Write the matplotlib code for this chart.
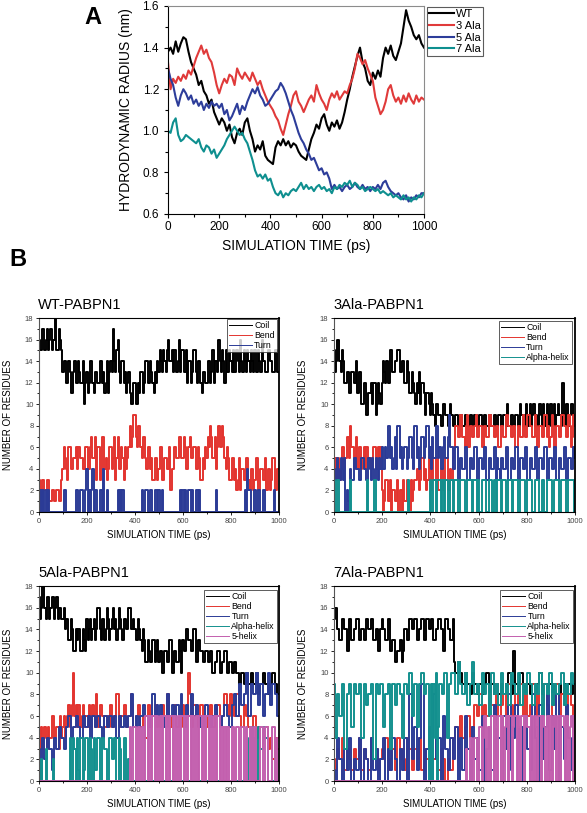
import numpy as np
import matplotlib
matplotlib.use("Agg")
import matplotlib.pyplot as plt
from matplotlib.ticker import MultipleLocator

plt.rcParams['font.family'] = ['Liberation Sans', 'DejaVu Sans']

# panel A sampled every 10 ps, panel B every 5 ps
time_a = np.arange(0, 1001, 10)
time_b = np.arange(0, 1001, 5)

# panel A: hydrodynamic radius (nm)
rh_wt = [1.38, 1.40, 1.37, 1.43, 1.38, 1.42, 1.45, 1.44, 1.38, 1.33,
         1.30, 1.27, 1.22, 1.24, 1.19, 1.17, 1.13, 1.15, 1.09, 1.06,
         1.03, 1.06, 1.04, 1.00, 1.03, 0.97, 0.94, 0.99, 1.01, 0.98,
         1.04, 1.06, 1.00, 0.96, 0.90, 0.93, 0.91, 0.95, 0.88, 0.86,
         0.85, 0.84, 0.92, 0.95, 0.93, 0.96, 0.93, 0.95, 0.92, 0.94,
         0.93, 0.90, 0.88, 0.87, 0.86, 0.91, 0.96, 0.99, 1.03, 1.01,
         1.06, 1.08, 1.03, 1.00, 1.04, 1.02, 1.05, 1.01, 1.04, 1.09,
         1.15, 1.20, 1.26, 1.31, 1.36, 1.40, 1.33, 1.30, 1.24, 1.22,
         1.28, 1.25, 1.29, 1.26, 1.35, 1.40, 1.37, 1.41, 1.36, 1.34,
         1.38, 1.42, 1.50, 1.58, 1.53, 1.50, 1.46, 1.44, 1.46, 1.42, 1.40]
rh_3ala = [1.33, 1.20, 1.25, 1.23, 1.26, 1.24, 1.27, 1.25, 1.29, 1.27,
           1.31, 1.35, 1.38, 1.41, 1.37, 1.39, 1.35, 1.33, 1.28, 1.22,
           1.18, 1.22, 1.25, 1.23, 1.27, 1.26, 1.22, 1.30, 1.27, 1.25,
           1.28, 1.26, 1.24, 1.28, 1.25, 1.22, 1.24, 1.20, 1.17, 1.14,
           1.12, 1.10, 1.07, 1.05, 1.01, 0.98, 1.03, 1.08, 1.12, 1.17,
           1.19, 1.14, 1.12, 1.09, 1.12, 1.15, 1.17, 1.14, 1.22, 1.18,
           1.15, 1.13, 1.10, 1.15, 1.18, 1.16, 1.19, 1.15, 1.17, 1.19,
           1.18, 1.22, 1.25, 1.30, 1.37, 1.35, 1.32, 1.34, 1.30, 1.27,
           1.24, 1.16, 1.12, 1.08, 1.10, 1.14, 1.20, 1.22, 1.17, 1.14,
           1.16, 1.13, 1.17, 1.14, 1.18, 1.15, 1.13, 1.17, 1.14, 1.16, 1.15]
rh_5ala = [1.30, 1.25, 1.22, 1.16, 1.12, 1.17, 1.20, 1.18, 1.15, 1.17,
           1.13, 1.15, 1.12, 1.14, 1.10, 1.13, 1.11, 1.14, 1.12, 1.13,
           1.11, 1.13, 1.08, 1.10, 1.05, 1.07, 1.10, 1.13, 1.08, 1.12,
           1.10, 1.14, 1.17, 1.20, 1.18, 1.21, 1.17, 1.15, 1.12, 1.13,
           1.15, 1.17, 1.19, 1.20, 1.23, 1.21, 1.18, 1.14, 1.10, 1.07,
           1.03, 0.99, 0.96, 0.94, 0.91, 0.89, 0.86, 0.87, 0.84, 0.81,
           0.82, 0.79, 0.80, 0.77, 0.72, 0.74, 0.72, 0.73, 0.71, 0.73,
           0.74, 0.72, 0.73, 0.75, 0.73, 0.72, 0.74, 0.72, 0.73, 0.71,
           0.73, 0.72, 0.74, 0.72, 0.75, 0.76, 0.73, 0.71, 0.70, 0.69,
           0.70, 0.68, 0.67, 0.69, 0.66, 0.68, 0.67, 0.69, 0.68, 0.70, 0.70]
rh_7ala = [1.00, 0.99, 1.04, 1.06, 0.98, 0.95, 0.96, 0.98, 0.97, 0.96,
           0.95, 0.94, 0.96, 0.92, 0.90, 0.93, 0.92, 0.89, 0.91, 0.87,
           0.89, 0.91, 0.93, 0.96, 0.98, 1.00, 1.02, 1.00, 0.98, 0.99,
           0.96, 0.94, 0.90, 0.86, 0.81, 0.78, 0.79, 0.77, 0.79, 0.76,
           0.77, 0.73, 0.70, 0.69, 0.71, 0.68, 0.70, 0.69, 0.71, 0.72,
           0.71, 0.73, 0.75, 0.72, 0.74, 0.72, 0.73, 0.71, 0.73, 0.74,
           0.72, 0.73, 0.71, 0.72, 0.70, 0.73, 0.72, 0.74, 0.73, 0.75,
           0.74, 0.76, 0.73, 0.75, 0.74, 0.72, 0.73, 0.71, 0.72, 0.73,
           0.72, 0.71, 0.72, 0.70, 0.71, 0.70, 0.69, 0.70, 0.68, 0.69,
           0.68, 0.67, 0.69, 0.67, 0.68, 0.66, 0.68, 0.67, 0.69, 0.68, 0.70]
rh_labels = ['WT', '3 Ala', '5 Ala', '7 Ala']
rh_colors = ['#000000', '#e03a3a', '#2d3d9a', '#0e8f8f']

# panel B: number of residues in each secondary structure (one row = 100 ps)
wt_coil = [16, 15, 15, 17, 17, 15, 16, 17, 15, 16, 17, 15, 16, 16, 18, 15, 15, 17, 16, 15,
           13, 14, 14, 12, 12, 14, 13, 11, 11, 13, 14, 12, 12, 14, 13, 12, 12, 14, 10, 12,
           13, 11, 12, 14, 14, 12, 11, 13, 13, 12, 12, 14, 14, 12, 13, 11, 12, 14, 11, 13,
           14, 13, 17, 14, 13, 15, 16, 13, 12, 14, 14, 12, 13, 11, 12, 13, 11, 10, 10, 12,
           12, 10, 10, 12, 11, 13, 13, 11, 12, 14, 14, 12, 12, 14, 13, 12, 11, 13, 12, 14,
           13, 15, 14, 13, 15, 14, 13, 15, 16, 14, 14, 15, 13, 15, 15, 13, 14, 16, 13, 15,
           15, 13, 13, 15, 12, 14, 14, 12, 13, 15, 15, 13, 12, 14, 14, 12, 11, 13, 13, 12,
           12, 14, 14, 12, 13, 15, 12, 14, 14, 13, 16, 14, 13, 15, 14, 12, 15, 13, 13, 15,
           14, 13, 15, 13, 13, 15, 14, 13, 16, 14, 13, 15, 14, 13, 15, 14, 13, 15, 14, 13,
           15, 13, 13, 15, 14, 13, 16, 14, 14, 13, 13, 15, 15, 14, 14, 13, 13, 15, 15, 13,
           13]
wt_bend = [3, 2, 2, 3, 3, 2, 2, 3, 3, 1, 1, 2, 2, 1, 1, 2, 2, 1, 1, 3,
           4, 6, 5, 4, 3, 6, 6, 4, 4, 5, 5, 6, 4, 6, 6, 5, 5, 4, 4, 6,
           6, 4, 4, 6, 7, 5, 5, 7, 3, 6, 6, 3, 4, 7, 7, 4, 5, 3, 4, 6,
           6, 4, 5, 7, 3, 5, 7, 4, 4, 6, 5, 3, 6, 4, 5, 6, 8, 6, 7, 9,
           9, 7, 6, 8, 8, 6, 5, 7, 7, 5, 4, 6, 6, 4, 5, 3, 3, 5, 5, 3,
           4, 6, 6, 3, 3, 5, 5, 4, 4, 6, 2, 4, 4, 6, 6, 5, 5, 7, 7, 5,
           5, 7, 6, 4, 4, 6, 7, 5, 5, 6, 6, 4, 4, 6, 5, 3, 3, 5, 4, 6,
           5, 7, 6, 8, 7, 5, 5, 7, 4, 6, 8, 6, 6, 8, 7, 5, 4, 6, 5, 3,
           3, 5, 5, 3, 4, 2, 3, 5, 2, 4, 4, 3, 3, 5, 5, 3, 2, 4, 4, 2,
           3, 5, 5, 2, 2, 4, 4, 3, 3, 5, 2, 4, 4, 2, 3, 5, 5, 2, 2, 4,
           4]
wt_turn = [2, 0, 2, 0, 2, 0, 2, 0, 2, 0, 0, 0, 0, 0, 0, 0, 0, 0, 0, 0,
           0, 2, 2, 0, 0, 0, 0, 0, 0, 0, 0, 2, 2, 0, 0, 2, 2, 0, 0, 2,
           4, 0, 2, 0, 2, 4, 0, 2, 2, 0, 0, 2, 2, 0, 4, 0, 0, 2, 0, 0,
           0, 0, 0, 0, 0, 0, 2, 0, 2, 0, 2, 0, 0, 0, 0, 0, 0, 0, 0, 0,
           0, 0, 0, 0, 0, 0, 2, 0, 0, 2, 2, 0, 0, 2, 2, 0, 0, 2, 2, 0,
           2, 0, 0, 2, 0, 0, 0, 0, 0, 0, 0, 0, 0, 0, 0, 0, 0, 0, 2, 0,
           2, 0, 2, 0, 0, 2, 2, 0, 2, 0, 0, 2, 2, 0, 2, 0, 0, 0, 0, 0,
           0, 0, 0, 0, 0, 0, 0, 0, 2, 0, 0, 0, 0, 0, 0, 0, 0, 0, 0, 0,
           0, 0, 0, 0, 0, 0, 0, 0, 0, 0, 0, 0, 2, 0, 4, 2, 2, 0, 0, 0,
           2, 0, 0, 2, 2, 0, 0, 2, 2, 0, 0, 0, 0, 0, 0, 0, 2, 0, 0, 0,
           0]

ala3_coil = [15, 13, 14, 16, 16, 14, 13, 15, 14, 12, 12, 13, 13, 11, 11, 13, 13, 12, 12, 14,
             11, 13, 13, 10, 10, 12, 12, 9, 9, 11, 11, 12, 10, 12, 12, 9, 10, 12, 11, 10,
             12, 14, 13, 12, 14, 12, 12, 15, 15, 13, 13, 14, 14, 15, 15, 13, 13, 14, 14, 12,
             12, 14, 13, 11, 11, 13, 12, 11, 10, 12, 11, 13, 10, 12, 12, 11, 9, 11, 11, 10,
             9, 11, 10, 9, 8, 10, 10, 9, 9, 8, 8, 10, 10, 9, 9, 8, 8, 10, 9, 8,
             8, 9, 9, 8, 8, 9, 9, 8, 8, 9, 9, 8, 8, 9, 9, 8, 8, 9, 9, 8,
             8, 9, 9, 8, 8, 9, 9, 8, 8, 9, 9, 8, 8, 9, 9, 8, 8, 9, 9, 8,
             8, 9, 9, 8, 10, 8, 8, 9, 9, 8, 8, 9, 9, 8, 8, 10, 9, 8, 8, 9,
             10, 8, 9, 10, 8, 9, 10, 8, 9, 8, 8, 10, 9, 8, 10, 9, 8, 10, 9, 8,
             10, 8, 9, 10, 8, 9, 10, 9, 9, 8, 12, 9, 8, 10, 10, 8, 9, 10, 10, 9,
             9]
ala3_bend = [4, 5, 3, 5, 5, 3, 4, 6, 6, 4, 5, 7, 7, 5, 8, 6, 6, 4, 5, 7,
             4, 6, 6, 4, 5, 6, 4, 6, 6, 5, 5, 4, 4, 6, 6, 4, 5, 6, 4, 6,
             2, 0, 1, 3, 3, 1, 1, 3, 0, 2, 2, 1, 1, 3, 0, 2, 2, 0, 3, 1,
             1, 3, 2, 0, 3, 1, 2, 3, 3, 4, 4, 2, 3, 5, 5, 3, 4, 2, 3, 5,
             4, 2, 5, 3, 3, 5, 5, 2, 2, 4, 4, 2, 3, 5, 5, 2, 2, 4, 3, 5,
             6, 8, 8, 7, 7, 9, 9, 7, 7, 6, 8, 9, 6, 8, 8, 7, 7, 8, 9, 7,
             7, 8, 8, 6, 6, 8, 8, 7, 7, 9, 9, 8, 8, 7, 7, 8, 8, 6, 6, 8,
             8, 7, 7, 9, 9, 8, 8, 7, 7, 8, 8, 6, 6, 8, 8, 7, 7, 9, 8, 7,
             7, 9, 9, 8, 8, 7, 7, 9, 8, 6, 6, 8, 8, 7, 7, 9, 9, 7, 8, 6,
             7, 9, 8, 6, 6, 8, 8, 7, 7, 9, 9, 8, 8, 7, 7, 9, 8, 6, 7, 9,
             8]
ala3_turn = [4, 3, 3, 5, 4, 3, 5, 4, 3, 5, 0, 2, 1, 0, 4, 3, 3, 5, 5, 4,
             4, 3, 3, 5, 5, 4, 4, 3, 3, 5, 4, 3, 5, 4, 3, 5, 4, 3, 5, 4,
             6, 4, 4, 6, 5, 8, 8, 5, 6, 4, 5, 7, 4, 8, 8, 5, 6, 4, 5, 6,
             6, 4, 5, 7, 7, 5, 4, 8, 8, 5, 6, 4, 5, 7, 7, 5, 6, 8, 8, 5,
             6, 4, 7, 5, 5, 8, 8, 5, 6, 4, 4, 6, 7, 5, 5, 7, 9, 6, 6, 4,
             4, 6, 6, 3, 3, 5, 5, 4, 4, 6, 6, 3, 3, 5, 5, 4, 4, 6, 6, 3,
             3, 5, 5, 4, 4, 6, 6, 3, 3, 5, 5, 4, 4, 6, 6, 3, 5, 4, 3, 5,
             5, 4, 4, 6, 6, 3, 3, 5, 5, 4, 4, 6, 6, 3, 3, 5, 5, 4, 4, 6,
             6, 3, 3, 5, 5, 4, 4, 6, 6, 3, 3, 5, 5, 4, 4, 6, 6, 3, 3, 5,
             5, 4, 4, 6, 6, 3, 3, 5, 5, 4, 4, 6, 6, 3, 3, 5, 5, 4, 4, 6,
             5]
ala3_alpha = [3, 0, 0, 3, 3, 0, 0, 0, 0, 0, 0, 0, 0, 0, 3, 0, 0, 0, 0, 0,
              0, 0, 0, 0, 0, 0, 0, 0, 3, 0, 0, 0, 0, 0, 3, 0, 0, 0, 0, 0,
              0, 0, 0, 0, 0, 0, 0, 0, 0, 0, 0, 0, 0, 0, 0, 0, 0, 0, 0, 0,
              0, 0, 3, 0, 0, 0, 0, 0, 0, 0, 0, 0, 0, 0, 0, 0, 0, 0, 0, 0,
              3, 0, 0, 3, 3, 0, 3, 3, 3, 0, 3, 3, 0, 3, 3, 0, 0, 3, 3, 0,
              3, 3, 3, 0, 0, 3, 3, 3, 3, 0, 0, 3, 3, 3, 3, 0, 3, 3, 3, 0,
              3, 0, 0, 3, 3, 3, 3, 0, 0, 3, 3, 3, 0, 3, 3, 0, 3, 3, 3, 0,
              3, 3, 3, 0, 0, 3, 3, 3, 0, 3, 3, 3, 3, 0, 0, 3, 3, 3, 3, 0,
              0, 3, 3, 3, 3, 0, 0, 3, 3, 3, 3, 0, 0, 3, 3, 0, 0, 3, 3, 3,
              3, 0, 0, 3, 3, 3, 3, 0, 0, 3, 3, 3, 3, 0, 0, 3, 3, 3, 3, 3,
              0]

ala5_coil = [17, 15, 16, 18, 18, 16, 15, 17, 17, 15, 16, 17, 17, 15, 16, 17, 15, 16, 16, 15,
             15, 16, 14, 15, 15, 13, 13, 15, 14, 12, 12, 14, 13, 14, 14, 12, 12, 14, 13, 12,
             15, 13, 14, 15, 13, 14, 15, 13, 14, 16, 16, 14, 13, 15, 15, 13, 14, 16, 15, 13,
             14, 15, 16, 14, 15, 13, 14, 16, 15, 14, 13, 15, 15, 14, 14, 16, 16, 14, 14, 15,
             14, 13, 13, 15, 14, 13, 12, 14, 13, 11, 11, 13, 12, 11, 11, 13, 13, 11, 12, 13,
             11, 12, 12, 10, 10, 12, 12, 11, 11, 13, 13, 10, 10, 12, 12, 11, 11, 13, 12, 10,
             13, 12, 12, 14, 14, 13, 13, 12, 12, 14, 14, 11, 11, 13, 13, 12, 12, 11, 11, 12,
             12, 11, 11, 12, 12, 10, 10, 11, 11, 12, 12, 10, 10, 11, 11, 12, 12, 10, 10, 11,
             11, 10, 10, 11, 11, 10, 10, 9, 9, 10, 10, 9, 9, 10, 10, 9, 9, 10, 10, 9,
             9, 10, 10, 8, 8, 9, 9, 10, 10, 9, 9, 8, 8, 9, 9, 10, 10, 9, 9, 8,
             8]
ala5_bend = [4, 3, 5, 4, 3, 5, 4, 3, 5, 4, 4, 6, 6, 4, 4, 5, 5, 3, 6, 4,
             5, 6, 4, 5, 6, 7, 5, 6, 7, 10, 6, 7, 5, 7, 7, 5, 6, 7, 5, 6,
             6, 5, 7, 6, 5, 7, 6, 5, 8, 6, 5, 7, 7, 6, 6, 5, 5, 6, 6, 5,
             7, 5, 5, 6, 6, 8, 8, 5, 5, 6, 6, 7, 7, 5, 5, 6, 6, 8, 7, 5,
             5, 6, 6, 7, 7, 5, 5, 6, 6, 4, 4, 7, 7, 5, 5, 6, 6, 7, 7, 5,
             6, 5, 5, 7, 7, 6, 6, 8, 8, 5, 5, 6, 6, 7, 7, 5, 5, 6, 6, 5,
             7, 5, 5, 6, 6, 10, 8, 5, 5, 7, 7, 6, 6, 5, 5, 7, 7, 6, 6, 5,
             5, 6, 6, 7, 7, 5, 5, 6, 6, 7, 7, 5, 5, 6, 6, 8, 8, 7, 7, 6,
             8, 7, 7, 6, 6, 8, 8, 6, 6, 5, 5, 7, 7, 6, 6, 5, 5, 4, 4, 6,
             6, 4, 4, 5, 5, 3, 3, 4, 4, 5, 5, 3, 3, 4, 4, 2, 2, 4, 4, 3,
             3]
ala5_turn = [3, 0, 0, 4, 4, 2, 2, 4, 4, 3, 3, 1, 1, 4, 4, 3, 3, 5, 5, 4,
             4, 3, 3, 5, 5, 6, 6, 4, 4, 5, 5, 6, 6, 5, 5, 4, 4, 6, 6, 5,
             5, 6, 6, 4, 4, 6, 6, 5, 5, 6, 6, 5, 5, 4, 4, 6, 6, 5, 5, 6,
             6, 5, 5, 6, 6, 4, 4, 6, 6, 5, 5, 6, 6, 5, 5, 6, 6, 8, 8, 5,
             5, 6, 6, 5, 5, 6, 6, 7, 7, 6, 6, 5, 5, 6, 6, 8, 8, 6, 6, 7,
             6, 7, 7, 6, 6, 5, 5, 8, 8, 6, 6, 7, 7, 6, 6, 7, 7, 6, 6, 8,
             6, 5, 5, 7, 7, 6, 6, 8, 8, 6, 6, 7, 7, 6, 6, 5, 5, 6, 6, 7,
             7, 6, 6, 5, 5, 6, 6, 7, 7, 6, 6, 5, 5, 6, 6, 7, 7, 6, 6, 5,
             5, 7, 7, 8, 8, 6, 6, 9, 9, 7, 7, 8, 8, 10, 10, 6, 6, 9, 9, 8,
             8, 10, 10, 7, 7, 9, 9, 6, 6, 8, 8, 10, 10, 7, 7, 9, 9, 8, 8, 6,
             6]
ala5_alpha = [0, 0, 2, 0, 0, 0, 3, 0, 0, 0, 0, 0, 2, 0, 0, 0, 0, 0, 0, 0,
              0, 0, 0, 0, 0, 0, 4, 0, 0, 4, 3, 0, 4, 1, 0, 4, 4, 0, 1, 4,
              4, 0, 0, 4, 3, 0, 4, 1, 1, 4, 4, 0, 0, 4, 4, 3, 3, 0, 0, 4,
              4, 2, 2, 4, 4, 0, 0, 4, 3, 0, 0, 4, 4, 0, 0, 2, 2, 0, 0, 0,
              0, 0, 0, 0, 0, 0, 0, 0, 0, 0, 0, 0, 0, 0, 0, 0, 0, 0, 0, 0,
              0, 0, 0, 0, 0, 0, 0, 0, 0, 0, 0, 0, 0, 0, 0, 0, 0, 0, 0, 0,
              0, 0, 0, 0, 0, 0, 0, 0, 0, 0, 0, 0, 0, 0, 0, 0, 0, 0, 0, 0,
              0, 0, 0, 0, 0, 0, 0, 0, 0, 0, 0, 0, 0, 0, 0, 0, 0, 0, 0, 0,
              0, 0, 0, 0, 0, 0, 0, 0, 0, 0, 0, 0, 0, 0, 4, 0, 0, 5, 5, 0,
              4, 0, 0, 5, 5, 3, 3, 5, 5, 4, 4, 0, 0, 0, 0, 0, 0, 0, 0, 0,
              0]
ala5_helix5 = [0, 0, 0, 0, 0, 0, 0, 0, 0, 0, 0, 0, 0, 0, 0, 0, 0, 0, 0, 0,
               0, 0, 0, 0, 0, 0, 0, 0, 0, 0, 0, 0, 0, 0, 0, 0, 0, 0, 0, 0,
               0, 0, 0, 0, 0, 0, 0, 0, 0, 0, 0, 0, 0, 0, 0, 0, 0, 0, 0, 0,
               0, 0, 0, 0, 0, 0, 0, 0, 0, 0, 0, 0, 0, 0, 0, 0, 5, 0, 0, 5,
               5, 0, 0, 5, 5, 0, 5, 5, 0, 6, 6, 0, 6, 6, 0, 6, 6, 0, 6, 6,
               0, 6, 6, 0, 6, 6, 0, 6, 6, 0, 6, 6, 0, 6, 6, 0, 6, 6, 0, 6,
               6, 0, 6, 6, 0, 6, 6, 0, 6, 6, 0, 6, 6, 0, 6, 6, 0, 6, 6, 0,
               6, 6, 0, 6, 6, 0, 6, 6, 0, 6, 6, 0, 5, 5, 0, 5, 0, 5, 5, 0,
               0, 5, 5, 0, 0, 5, 5, 0, 0, 5, 5, 0, 0, 5, 0, 0, 5, 5, 0, 0,
               5, 0, 0, 0, 0, 5, 5, 0, 0, 5, 5, 0, 0, 0, 0, 5, 5, 0, 0, 4,
               4]

ala7_coil = [15, 16, 16, 14, 14, 13, 13, 15, 15, 14, 14, 12, 12, 15, 15, 13, 13, 14, 14, 15,
             15, 13, 13, 14, 14, 13, 13, 15, 15, 14, 14, 15, 15, 13, 13, 14, 14, 12, 12, 14,
             15, 14, 14, 13, 13, 15, 15, 12, 12, 13, 13, 11, 11, 12, 12, 13, 13, 11, 12, 14,
             14, 13, 13, 15, 15, 14, 14, 15, 15, 13, 13, 14, 14, 15, 15, 13, 13, 15, 15, 14,
             14, 15, 15, 13, 13, 14, 14, 15, 15, 14, 14, 12, 12, 15, 15, 14, 14, 13, 13, 15,
             11, 10, 10, 11, 11, 10, 10, 9, 9, 10, 10, 9, 9, 8, 8, 10, 10, 9, 9, 8,
             8, 9, 9, 8, 8, 9, 9, 10, 10, 8, 8, 9, 9, 8, 8, 9, 9, 8, 8, 9,
             9, 8, 8, 9, 9, 10, 10, 8, 8, 12, 12, 9, 9, 8, 8, 10, 10, 9, 9, 8,
             8, 9, 9, 8, 8, 9, 9, 8, 8, 9, 9, 10, 10, 8, 8, 9, 9, 8, 8, 9,
             9, 8, 8, 9, 9, 8, 8, 9, 9, 8, 8, 9, 9, 8, 8, 9, 9, 8, 8, 9,
             9]
ala7_bend = [2, 1, 1, 3, 3, 2, 2, 4, 4, 1, 1, 3, 3, 2, 2, 1, 1, 3, 3, 2,
             2, 4, 4, 1, 1, 3, 3, 2, 2, 1, 1, 4, 4, 2, 2, 3, 3, 1, 1, 2,
             3, 2, 2, 4, 4, 1, 1, 2, 2, 3, 3, 1, 1, 4, 4, 2, 2, 3, 3, 1,
             2, 4, 4, 3, 3, 1, 1, 3, 3, 2, 2, 4, 4, 1, 1, 3, 3, 2, 2, 1,
             1, 3, 3, 2, 2, 4, 4, 1, 1, 3, 3, 2, 2, 0, 0, 2, 2, 1, 1, 4,
             4, 5, 5, 3, 3, 6, 6, 4, 4, 5, 5, 6, 6, 4, 4, 5, 5, 7, 7, 6,
             6, 8, 8, 5, 5, 7, 7, 6, 6, 8, 8, 7, 7, 5, 5, 9, 9, 6, 6, 7,
             7, 8, 8, 6, 6, 9, 9, 7, 7, 6, 6, 8, 8, 7, 7, 9, 9, 6, 6, 8,
             8, 6, 6, 7, 7, 9, 9, 6, 6, 8, 8, 7, 7, 6, 6, 9, 9, 7, 7, 6,
             6, 8, 8, 7, 7, 9, 9, 6, 6, 8, 8, 7, 7, 6, 6, 8, 8, 7, 7, 6,
             6]
ala7_turn = [1, 0, 0, 4, 4, 2, 2, 0, 0, 3, 3, 1, 1, 4, 4, 0, 0, 2, 2, 1,
             1, 4, 4, 0, 0, 3, 3, 2, 2, 0, 0, 4, 4, 1, 1, 3, 3, 0, 0, 2,
             2, 4, 4, 0, 0, 3, 3, 1, 1, 4, 4, 2, 2, 0, 0, 3, 3, 1, 1, 4,
             4, 0, 0, 8, 8, 2, 2, 5, 5, 1, 1, 4, 4, 9, 9, 0, 0, 3, 3, 5,
             5, 0, 0, 8, 8, 2, 2, 4, 4, 0, 0, 6, 6, 3, 3, 1, 1, 4, 4, 2,
             2, 5, 5, 0, 0, 4, 4, 1, 1, 6, 6, 3, 3, 0, 0, 5, 5, 2, 2, 4,
             4, 1, 1, 6, 6, 0, 0, 3, 3, 5, 5, 1, 1, 7, 7, 2, 2, 4, 4, 0,
             0, 6, 6, 3, 3, 8, 8, 1, 1, 4, 4, 7, 7, 2, 2, 5, 5, 0, 0, 6,
             6, 3, 3, 1, 1, 8, 8, 4, 4, 0, 0, 7, 7, 2, 2, 5, 5, 9, 9, 1,
             1, 6, 6, 3, 3, 8, 8, 0, 0, 5, 5, 2, 2, 7, 7, 4, 4, 1, 1, 6,
             6]
ala7_alpha = [9, 4, 4, 8, 8, 6, 6, 9, 9, 3, 3, 8, 8, 9, 9, 5, 5, 9, 9, 8,
              8, 9, 9, 4, 4, 9, 9, 7, 7, 8, 8, 9, 9, 2, 2, 9, 9, 8, 8, 9,
              9, 5, 5, 8, 8, 9, 9, 3, 3, 9, 9, 7, 7, 9, 9, 8, 8, 4, 4, 9,
              9, 8, 8, 10, 10, 6, 6, 9, 9, 5, 5, 9, 9, 10, 10, 8, 8, 9, 9, 0,
              0, 9, 0, 9, 4, 10, 0, 5, 9, 9, 8, 8, 10, 10, 4, 4, 9, 9, 10, 10,
              10, 8, 8, 11, 11, 9, 9, 8, 8, 10, 10, 7, 7, 9, 9, 11, 11, 8, 8, 9,
              9, 7, 7, 10, 10, 8, 8, 9, 9, 6, 6, 10, 10, 8, 8, 9, 9, 7, 7, 10,
              10, 8, 8, 9, 9, 7, 7, 10, 10, 9, 9, 8, 8, 10, 10, 7, 7, 9, 9, 8,
              8, 10, 10, 9, 9, 7, 7, 9, 9, 8, 8, 10, 10, 6, 6, 9, 9, 8, 8, 10,
              10, 7, 7, 9, 9, 8, 8, 9, 9, 10, 10, 7, 7, 9, 9, 8, 8, 10, 10, 9,
              9]
ala7_helix5 = [0, 0, 0, 0, 0, 0, 0, 0, 0, 0, 0, 0, 0, 0, 0, 0, 0, 0, 0, 0,
               0, 0, 0, 0, 0, 0, 0, 0, 0, 0, 0, 0, 0, 0, 0, 0, 0, 0, 0, 0,
               0, 0, 0, 0, 0, 0, 0, 0, 0, 0, 0, 0, 0, 0, 0, 0, 0, 0, 0, 0,
               0, 0, 0, 0, 0, 0, 0, 0, 0, 0, 0, 0, 0, 0, 0, 0, 0, 0, 0, 0,
               0, 0, 0, 0, 0, 0, 0, 0, 0, 0, 0, 0, 0, 0, 0, 0, 0, 0, 0, 0,
               0, 0, 0, 0, 0, 0, 0, 0, 0, 0, 3, 0, 0, 4, 4, 0, 0, 4, 4, 0,
               0, 5, 5, 0, 4, 6, 6, 0, 5, 5, 0, 6, 6, 0, 6, 5, 0, 6, 6, 0,
               6, 0, 5, 6, 6, 0, 6, 6, 0, 5, 6, 6, 0, 6, 5, 0, 6, 6, 0, 6,
               6, 5, 5, 0, 6, 6, 0, 6, 5, 0, 6, 6, 0, 6, 6, 5, 0, 6, 6, 0,
               6, 0, 5, 6, 6, 0, 6, 6, 0, 6, 6, 5, 0, 6, 6, 0, 5, 6, 6, 0,
               6]

ss_names = ['Coil', 'Bend', 'Turn', 'Alpha-helix', '5-helix']
ss_colors = ['#000000', '#e3342f', '#2b3b96', '#13908e', '#c35fae']

panels = [
    ('WT-PABPN1', [wt_coil, wt_bend, wt_turn]),
    ('3Ala-PABPN1', [ala3_coil, ala3_bend, ala3_turn, ala3_alpha]),
    ('5Ala-PABPN1', [ala5_coil, ala5_bend, ala5_turn, ala5_alpha, ala5_helix5]),
    ('7Ala-PABPN1', [ala7_coil, ala7_bend, ala7_turn, ala7_alpha, ala7_helix5]),
]

W, H = 587, 813
fig = plt.figure(figsize=(W / 100, H / 100), dpi=100)


def box(left, top, right, bottom):
    return [left / W, 1 - bottom / H, (right - left) / W, (bottom - top) / H]


# ---- panel A
axA = fig.add_axes(box(168, 6, 424, 214))
for vals, lab, col in zip([rh_wt, rh_3ala, rh_5ala, rh_7ala], rh_labels, rh_colors):
    axA.plot(time_a, vals, color=col, lw=1.5, label=lab)
axA.set_xlim(0, 1000)
axA.set_ylim(0.6, 1.6)
axA.xaxis.set_major_locator(MultipleLocator(200))
axA.xaxis.set_minor_locator(MultipleLocator(100))
axA.yaxis.set_major_locator(MultipleLocator(0.2))
axA.yaxis.set_minor_locator(MultipleLocator(0.1))
axA.tick_params(which='both', direction='out', labelsize=8.5, width=0.8)
axA.tick_params(which='major', length=3)
axA.tick_params(which='minor', length=2)
axA.tick_params(axis='x', pad=2)
for s in ['top', 'right']:
    axA.spines[s].set_color('#8c8c8c')
axA.legend(loc='upper left', bbox_to_anchor=(427 / W, 1 - 7 / H),
           bbox_transform=fig.transFigure, fontsize=8, frameon=True,
           fancybox=False, edgecolor='#333333', borderpad=0.2, labelspacing=0.15,
           handlelength=2.2, handletextpad=0.2, borderaxespad=0)
axA.get_legend().get_frame().set_linewidth(0.8)
fig.text(296 / W, 1 - 246 / H, 'SIMULATION TIME (ps)', ha='center', va='center', fontsize=10)
fig.text(126 / W, 1 - 110 / H, 'HYDRODYNAMIC RADIUS (nm)', ha='center', va='center',
         rotation=90, fontsize=10)
fig.text(93 / W, 1 - 18 / H, 'A', ha='center', va='center', fontsize=17, fontweight='bold')
fig.text(18 / W, 1 - 260 / H, 'B', ha='center', va='center', fontsize=17, fontweight='bold')

# ---- panel B
frames = [(39, 318, 279, 512), (334, 318, 575, 512),
          (39, 586, 279, 781), (334, 586, 575, 781)]
legend_tr = [(277, 319), (572, 321), (277, 590), (573, 590)]
for (title, series), fr, lg in zip(panels, frames, legend_tr):
    ax = fig.add_axes(box(*fr))
    for vals, name, col in zip(series, ss_names, ss_colors):
        ax.plot(time_b, vals, color=col, lw=1.4, drawstyle='steps-mid', label=name)
    ax.set_xlim(0, 1000)
    ax.set_ylim(0, 18)
    ax.xaxis.set_major_locator(MultipleLocator(200))
    ax.xaxis.set_minor_locator(MultipleLocator(100))
    ax.yaxis.set_major_locator(MultipleLocator(2))
    ax.yaxis.set_minor_locator(MultipleLocator(1))
    ax.tick_params(which='both', direction='out', labelsize=5.5, labelcolor='#444444',
                   width=0.6, pad=1.5)
    ax.tick_params(which='major', length=2.5)
    ax.tick_params(which='minor', length=1.5)
    for s in ax.spines.values():
        s.set_linewidth(0.8)
    ax.spines['right'].set_linewidth(1.3)
    ax.spines['left'].set_color('#555555')
    leg = ax.legend(loc='upper right', bbox_to_anchor=(lg[0] / W, 1 - lg[1] / H),
                    bbox_transform=fig.transFigure, fontsize=6.3, frameon=True,
                    fancybox=False, edgecolor='#333333', borderpad=0.25,
                    labelspacing=0.1, handlelength=2.6, handletextpad=0.3,
                    borderaxespad=0)
    leg.get_frame().set_linewidth(0.7)
    for h in leg.get_lines():
        h.set_linewidth(0.7)
    cx = (fr[0] + fr[2]) / 2
    fig.text(cx / W, 1 - (fr[3] + 23) / H, 'SIMULATION TIME (ps)', ha='center',
             va='center', fontsize=7)
    fig.text((fr[0] - 31) / W, 1 - ((fr[1] + fr[3]) / 2) / H, 'NUMBER OF RESIDUES',
             ha='center', va='center', rotation=90, fontsize=7)
    fig.text((fr[0] - 1) / W, 1 - (fr[1] - 9) / H, title, ha='left', va='baseline',
             fontsize=10.5)

fig.savefig('out.png', dpi=100)
